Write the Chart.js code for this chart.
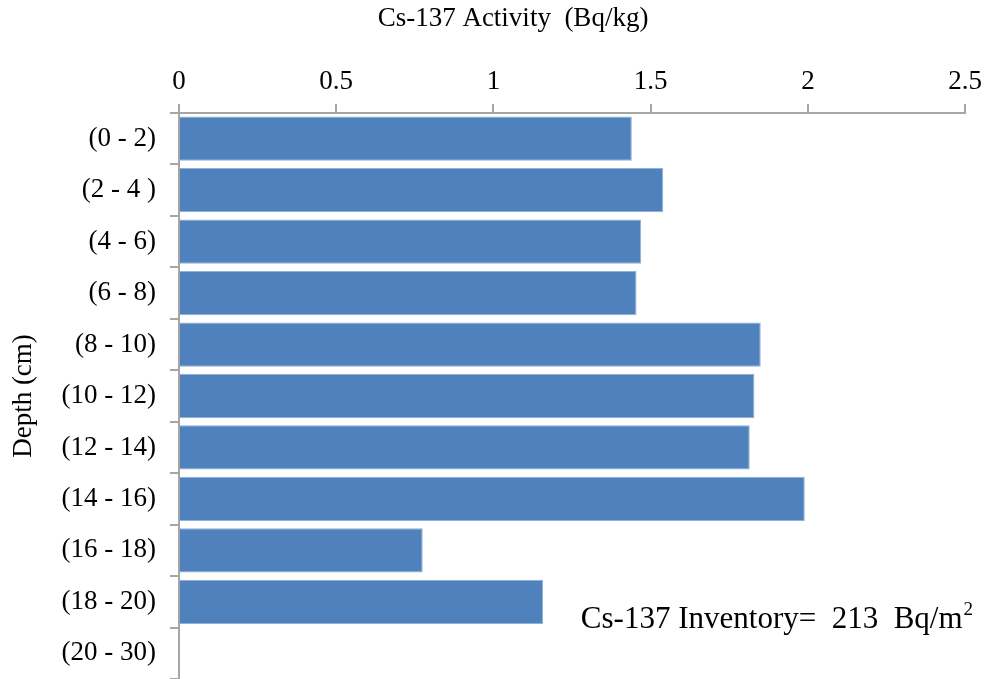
<!DOCTYPE html>
<html>
<head>
<meta charset="utf-8">
<script src="https://cdn.jsdelivr.net/npm/chart.js@4/dist/chart.umd.min.js"></script>
<style>
  body { margin: 0; background: #fff; }
  #wrap { width: 988px; height: 679px; }
</style>
</head>
<body>
<div id="wrap"><canvas id="chart" width="988" height="679"></canvas></div>
<script>
// Profundidades y actividad de Cs-137
const depths = ["(0 - 2)", "(2 - 4 )", "(4 - 6)", "(6 - 8)", "(8 - 10)", "(10 - 12)",
                "(12 - 14)", "(14 - 16)", "(16 - 18)", "(18 - 20)", "(20 - 30)"];
const activity = [1.44, 1.54, 1.47, 1.455, 1.85, 1.83, 1.815, 1.99, 0.775, 1.158, null];
const xTicks = [0, 0.5, 1, 1.5, 2, 2.5];

const serif = "'Liberation Serif', 'Times New Roman', serif";
const axisGrey = "#a6a6a6";

// Título superior (desplazado a la izquierda como en el original) y nota del inventario
const textNotes = {
    id: "textNotes",
    afterDraw(chart) {
        const ctx = chart.ctx;
        ctx.save();
        ctx.fillStyle = "#000";
        ctx.textBaseline = "middle";

        ctx.textAlign = "center";
        ctx.font = "27px " + serif;
        ctx.fillText("Cs-137 Activity  (Bq/kg)", 513, 19);

        ctx.textAlign = "left";
        const x = chart.scales.x.getPixelForValue(1.278);
        const y = 620;
        ctx.font = "31px " + serif;
        const main = "Cs-137 Inventory=  213  Bq/m";
        ctx.fillText(main, x, y);
        const w = ctx.measureText(main).width;
        ctx.font = "19px " + serif;
        ctx.fillText("2", x + w + 1, y - 10);
        ctx.restore();
    }
};

const chart = new Chart(document.getElementById("chart").getContext("2d"), {
    type: "bar",
    data: {
        labels: depths,
        datasets: [{
            data: activity,
            backgroundColor: "#4f81bd",
            borderColor: "#8fb0da",
            borderWidth: 1,
            barPercentage: 1,
            categoryPercentage: 0.86
        }]
    },
    options: {
        indexAxis: "y",
        responsive: false,
        animation: false,
        layout: { padding: { right: 21, top: 0, bottom: 0, left: 0 } },
        plugins: {
            legend: { display: false },
            tooltip: { enabled: false }
        },
        scales: {
            x: {
                position: "top",
                min: 0,
                max: 2.5,
                afterBuildTicks: (scale) => { scale.ticks = xTicks.map(v => ({ value: v })); },
                afterFit: (scale) => { scale.height = 113; },
                ticks: {
                    color: "#000",
                    font: { family: serif, size: 27 },
                    padding: 6,
                    maxRotation: 0,
                    callback: (v) => String(v)
                },
                grid: {
                    drawOnChartArea: false,
                    tickLength: 9,
                    color: axisGrey,
                    lineWidth: 2
                },
                border: { color: axisGrey, width: 2 }
            },
            y: {
                afterFit: (scale) => {
                    scale.width = 179;
                    scale.paddingTop = 0;
                    scale.paddingBottom = 0;
                },
                ticks: {
                    color: "#000",
                    font: { family: serif, size: 27 },
                    padding: 14
                },
                grid: {
                    offset: true,
                    drawOnChartArea: false,
                    tickLength: 9,
                    color: axisGrey,
                    lineWidth: 2
                },
                border: { color: axisGrey, width: 2 },
                title: {
                    display: true,
                    text: "Depth (cm)",
                    color: "#000",
                    font: { family: serif, size: 27 },
                    padding: { top: 8, bottom: 0 }
                }
            }
        }
    },
    plugins: [textNotes]
});
</script>
</body>
</html>
